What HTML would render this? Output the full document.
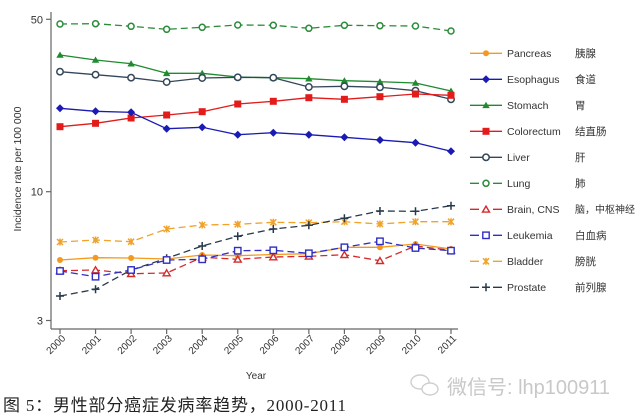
<!DOCTYPE html>
<html><head><meta charset="utf-8"><style>
html,body{margin:0;padding:0;background:#fff;}
svg{display:block;}
</style></head><body>
<svg width="640" height="417" viewBox="0 0 640 417" xmlns="http://www.w3.org/2000/svg">
<defs>
<marker id="mLung" markerUnits="userSpaceOnUse" markerWidth="10" markerHeight="10" refX="5" refY="5" viewBox="0 0 10 10"><circle cx="5" cy="5" r="3" fill="#fff" stroke="#2a8c3a" stroke-width="1.5"/></marker>
<marker id="mSto" markerUnits="userSpaceOnUse" markerWidth="10" markerHeight="10" refX="5" refY="5" viewBox="0 0 10 10"><polygon points="5,1.5 8.7,7.8 1.3,7.8" fill="#1f8a2e"/></marker>
<marker id="mLiv" markerUnits="userSpaceOnUse" markerWidth="10" markerHeight="10" refX="5" refY="5" viewBox="0 0 10 10"><circle cx="5" cy="5" r="3.2" fill="#fff" stroke="#34475a" stroke-width="1.5"/></marker>
<marker id="mCol" markerUnits="userSpaceOnUse" markerWidth="10" markerHeight="10" refX="5" refY="5" viewBox="0 0 10 10"><rect x="1.5" y="1.5" width="7" height="7" fill="#e21b1b"/></marker>
<marker id="mEso" markerUnits="userSpaceOnUse" markerWidth="10" markerHeight="10" refX="5" refY="5" viewBox="0 0 10 10"><polygon points="5,1 9,5 5,9 1,5" fill="#1a1ab4"/></marker>
<marker id="mPan" markerUnits="userSpaceOnUse" markerWidth="10" markerHeight="10" refX="5" refY="5" viewBox="0 0 10 10"><circle cx="5" cy="5" r="3" fill="#f39a1e"/></marker>
<marker id="mBla" markerUnits="userSpaceOnUse" markerWidth="10" markerHeight="10" refX="5" refY="5" viewBox="0 0 10 10"><path d="M2,2 L8,8 M8,2 L2,8 M5,1.5 V8.5" stroke="#f0a22a" stroke-width="1.5" fill="none"/></marker>
<marker id="mPro" markerUnits="userSpaceOnUse" markerWidth="10" markerHeight="10" refX="5" refY="5" viewBox="0 0 10 10"><path d="M5,1 V9 M1,5 H9" stroke="#26384a" stroke-width="1.5" fill="none"/></marker>
<marker id="mBra" markerUnits="userSpaceOnUse" markerWidth="10" markerHeight="10" refX="5" refY="5" viewBox="0 0 10 10"><polygon points="5,1.8 8.5,7.8 1.5,7.8" fill="#fff" stroke="#d42a2a" stroke-width="1.4"/></marker>
<marker id="mLeu" markerUnits="userSpaceOnUse" markerWidth="10" markerHeight="10" refX="5" refY="5" viewBox="0 0 10 10"><rect x="1.8" y="1.8" width="6.4" height="6.4" fill="#fff" stroke="#2f2fc4" stroke-width="1.4"/></marker>
</defs>

<!-- axes -->
<g stroke="#666" stroke-width="1.2" fill="none">
<line x1="51" y1="12" x2="51" y2="329"/>
<line x1="51" y1="329" x2="458" y2="329"/>
<line x1="46" y1="19.3" x2="51" y2="19.3"/>
<line x1="46" y1="191.7" x2="51" y2="191.7"/>
<line x1="46" y1="320.5" x2="51" y2="320.5"/>
<line x1="60" y1="329" x2="60" y2="334"/>
<line x1="95.55" y1="329" x2="95.55" y2="334"/>
<line x1="131.1" y1="329" x2="131.1" y2="334"/>
<line x1="166.65" y1="329" x2="166.65" y2="334"/>
<line x1="202.2" y1="329" x2="202.2" y2="334"/>
<line x1="237.75" y1="329" x2="237.75" y2="334"/>
<line x1="273.3" y1="329" x2="273.3" y2="334"/>
<line x1="308.85" y1="329" x2="308.85" y2="334"/>
<line x1="344.4" y1="329" x2="344.4" y2="334"/>
<line x1="379.95" y1="329" x2="379.95" y2="334"/>
<line x1="415.5" y1="329" x2="415.5" y2="334"/>
<line x1="451" y1="329" x2="451" y2="334"/>
</g>

<g font-family="Liberation Sans, sans-serif" fill="#333">
<text x="43" y="23.3" font-size="11" text-anchor="end">50</text>
<text x="43" y="195.7" font-size="11" text-anchor="end">10</text>
<text x="43" y="324.5" font-size="11" text-anchor="end">3</text>
<text transform="translate(21,169) rotate(-90)" font-size="10.5" text-anchor="middle">Incidence rate per 100 000</text>
<text x="256" y="379" font-size="10" text-anchor="middle">Year</text>
<g font-size="10" text-anchor="end">
<text transform="translate(66,339) rotate(-45)">2000</text>
<text transform="translate(101.55,339) rotate(-45)">2001</text>
<text transform="translate(137.1,339) rotate(-45)">2002</text>
<text transform="translate(172.65,339) rotate(-45)">2003</text>
<text transform="translate(208.2,339) rotate(-45)">2004</text>
<text transform="translate(243.75,339) rotate(-45)">2005</text>
<text transform="translate(279.3,339) rotate(-45)">2006</text>
<text transform="translate(314.85,339) rotate(-45)">2007</text>
<text transform="translate(350.4,339) rotate(-45)">2008</text>
<text transform="translate(385.95,339) rotate(-45)">2009</text>
<text transform="translate(421.5,339) rotate(-45)">2010</text>
<text transform="translate(457,339) rotate(-45)">2011</text>
</g>
</g>

<!-- series -->
<g fill="none" stroke-width="1.3" stroke-linejoin="round">
<polyline stroke="#2a8c3a" stroke-dasharray="7 4" marker-start="url(#mLung)" marker-mid="url(#mLung)" marker-end="url(#mLung)" points="60,24 95.55,23.7 131.1,26.3 166.65,29.3 202.2,27.3 237.75,25 273.3,25.3 308.85,28.3 344.4,25.3 379.95,25.7 415.5,26 451,31"/>
<polyline stroke="#1f8a2e" marker-start="url(#mSto)" marker-mid="url(#mSto)" marker-end="url(#mSto)" points="60,55 95.55,60 131.1,63.7 166.65,73.3 202.2,73.3 237.75,77 273.3,77.7 308.85,78.7 344.4,80.7 379.95,81.7 415.5,83 451,91"/>
<polyline stroke="#34475a" marker-start="url(#mLiv)" marker-mid="url(#mLiv)" marker-end="url(#mLiv)" points="60,71.7 95.55,74.7 131.1,77.7 166.65,82 202.2,78 237.75,77.3 273.3,77.7 308.85,87 344.4,86.3 379.95,87.3 415.5,90.7 451,99.3"/>
<polyline stroke="#e21b1b" marker-start="url(#mCol)" marker-mid="url(#mCol)" marker-end="url(#mCol)" points="60,126.7 95.55,123.3 131.1,118 166.65,115 202.2,111.7 237.75,104 273.3,101.3 308.85,97.7 344.4,99.3 379.95,96.7 415.5,94 451,95.3"/>
<polyline stroke="#1a1ab4" marker-start="url(#mEso)" marker-mid="url(#mEso)" marker-end="url(#mEso)" points="60,108.3 95.55,111.3 131.1,112.3 166.65,128.7 202.2,127.3 237.75,134.7 273.3,132.7 308.85,134.7 344.4,137.3 379.95,140 415.5,142.7 451,151.3"/>
<polyline stroke="#f0a22a" stroke-dasharray="7 4" marker-start="url(#mBla)" marker-mid="url(#mBla)" marker-end="url(#mBla)" points="60,242 95.55,240 131.1,241.7 166.65,229 202.2,225 237.75,224.3 273.3,222.3 308.85,222.7 344.4,221.7 379.95,224 415.5,221.7 451,221.7"/>
<polyline stroke="#26384a" stroke-dasharray="7 4" marker-start="url(#mPro)" marker-mid="url(#mPro)" marker-end="url(#mPro)" points="60,296 95.55,289.3 131.1,270 166.65,258.3 202.2,246 237.75,236.3 273.3,229 308.85,225.3 344.4,218.3 379.95,211 415.5,211.3 451,205.7"/>
<polyline stroke="#f39a1e" marker-start="url(#mPan)" marker-mid="url(#mPan)" marker-end="url(#mPan)" points="60,260 95.55,257.7 131.1,258 166.65,259 202.2,255 237.75,255.7 273.3,254.5 308.85,253.7 344.4,247.3 379.95,247.3 415.5,244 451,249"/>
<polyline stroke="#d42a2a" stroke-dasharray="7 4" marker-start="url(#mBra)" marker-mid="url(#mBra)" marker-end="url(#mBra)" points="60,270.7 95.55,270 131.1,273.7 166.65,273 202.2,257.3 237.75,259.3 273.3,257 308.85,256.3 344.4,254.7 379.95,260.7 415.5,246 451,250.3"/>
<polyline stroke="#2f2fc4" stroke-dasharray="7 4" marker-start="url(#mLeu)" marker-mid="url(#mLeu)" marker-end="url(#mLeu)" points="60,271 95.55,276.7 131.1,270 166.65,260 202.2,259.3 237.75,250.7 273.3,250.3 308.85,253.3 344.4,247.3 379.95,241.3 415.5,248 451,250.7"/>
</g>

<!-- legend -->
<g fill="none" stroke-width="1.3">
<polyline stroke="#f39a1e" marker-mid="url(#mPan)" points="470,53.3 486,53.3 502,53.3"/>
<polyline stroke="#1a1ab4" marker-mid="url(#mEso)" points="470,79.3 486,79.3 502,79.3"/>
<polyline stroke="#1f8a2e" marker-mid="url(#mSto)" points="470,105.3 486,105.3 502,105.3"/>
<polyline stroke="#e21b1b" marker-mid="url(#mCol)" points="470,131.3 486,131.3 502,131.3"/>
<polyline stroke="#34475a" marker-mid="url(#mLiv)" points="470,157.3 486,157.3 502,157.3"/>
<polyline stroke="#2a8c3a" stroke-dasharray="9 14 9" marker-mid="url(#mLung)" points="470,183.3 486,183.3 502,183.3"/>
<polyline stroke="#d42a2a" stroke-dasharray="9 14 9" marker-mid="url(#mBra)" points="470,209.3 486,209.3 502,209.3"/>
<polyline stroke="#2f2fc4" stroke-dasharray="9 14 9" marker-mid="url(#mLeu)" points="470,235.3 486,235.3 502,235.3"/>
<polyline stroke="#f0a22a" stroke-dasharray="9 14 9" marker-mid="url(#mBla)" points="470,261.3 486,261.3 502,261.3"/>
<polyline stroke="#26384a" stroke-dasharray="9 14 9" marker-mid="url(#mPro)" points="470,287.3 486,287.3 502,287.3"/>
</g>
<g font-family="Liberation Sans, 'Noto Sans CJK SC', sans-serif" font-size="10.5" fill="#333">
<text x="507" y="57">Pancreas</text><text x="575" y="57">胰腺</text>
<text x="507" y="83">Esophagus</text><text x="575" y="83">食道</text>
<text x="507" y="109">Stomach</text><text x="575" y="109">胃</text>
<text x="507" y="135">Colorectum</text><text x="575" y="135">结直肠</text>
<text x="507" y="161">Liver</text><text x="575" y="161">肝</text>
<text x="507" y="187">Lung</text><text x="575" y="187">肺</text>
<text x="507" y="213">Brain, CNS</text><text x="575" y="213" font-size="10">脑，中枢神经</text>
<text x="507" y="239">Leukemia</text><text x="575" y="239">白血病</text>
<text x="507" y="265">Bladder</text><text x="575" y="265">膀胱</text>
<text x="507" y="291">Prostate</text><text x="575" y="291">前列腺</text>
</g>

<!-- caption -->
<text x="3" y="411" font-family="Liberation Serif, 'Noto Sans CJK SC', sans-serif" font-size="17" letter-spacing="0.8" fill="#222">图 5：男性部分癌症发病率趋势，2000-2011</text>

<!-- watermark -->
<g stroke="#cfcfcf" stroke-width="1.4" fill="#fff">
<ellipse cx="420" cy="382" rx="9" ry="7"/>
<ellipse cx="430" cy="389" rx="8" ry="6"/>
</g>
<text x="447" y="394" font-family="Liberation Sans, 'Noto Sans CJK SC', sans-serif" font-size="20" fill="#c8c8c8">微信号: lhp100911</text>
</svg>
</body></html>
